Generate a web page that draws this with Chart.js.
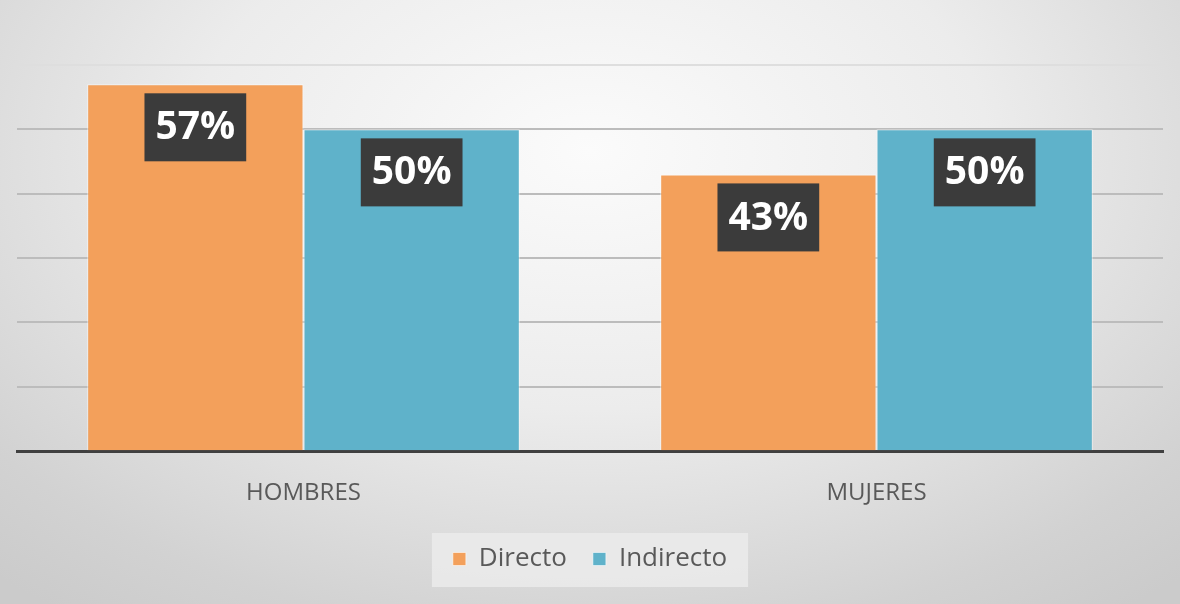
<!DOCTYPE html>
<html>
<head>
<meta charset="utf-8">
<script src="https://cdn.jsdelivr.net/npm/chart.js@4.4.0/dist/chart.umd.min.js"></script>
<style>
  html, body { margin: 0; padding: 0; }
  body {
    width: 1180px; height: 604px; overflow: hidden;
    background: radial-gradient(ellipse 75% 95% at 50% 25%, #fbfbfb 0%, #ececec 45%, #d2d2d2 85%, #cbcbcb 100%);
  }
  #wrap { position: relative; width: 1180px; height: 604px; }
</style>
</head>
<body>
<div id="wrap"><canvas id="chart"></canvas></div>
<script>
// data
const categories = ['HOMBRES', 'MUJERES'];
const directo = [57, 43];
const indirecto = [50, 50];
const seriesNames = ['Directo', 'Indirecto'];

const FONT = '"Open Sans", "Noto Sans", sans-serif';

// dark boxes with the value inside the top of each bar
const valueBoxes = {
    id: 'valueBoxes',
    afterDatasetsDraw(chart) {
        const ctx = chart.ctx;
        ctx.save();
        ctx.font = 'bold 39px ' + FONT;
        ctx.textAlign = 'center';
        ctx.textBaseline = 'middle';
        chart.data.datasets.forEach((ds, di) => {
            const meta = chart.getDatasetMeta(di);
            meta.data.forEach((bar, i) => {
                const txt = ds.data[i] + '%';
                const w = ctx.measureText(txt).width + 22;
                const h = 68;
                const top = bar.y + 9;
                ctx.fillStyle = '#3b3b3b';
                ctx.fillRect(bar.x - w / 2, top, w, h);
                ctx.fillStyle = '#ffffff';
                ctx.fillText(txt, bar.x, top + h / 2 + 1);
            });
        });
        ctx.restore();
    }
};

// light panel behind the legend
const legendPanel = {
    id: 'legendPanel',
    beforeDraw(chart) {
        const boxes = chart.legend && chart.legend.legendHitBoxes;
        if (!boxes || !boxes.length) return;
        let l = Infinity, r = -Infinity, t = Infinity, b = -Infinity;
        boxes.forEach(hb => {
            l = Math.min(l, hb.left); r = Math.max(r, hb.left + hb.width);
            t = Math.min(t, hb.top); b = Math.max(b, hb.top + hb.height);
        });
        const ctx = chart.ctx;
        ctx.save();
        ctx.fillStyle = 'rgba(235,235,235,0.85)';
        ctx.fillRect(l - 21, t - 13, r - l + 42, b - t + 28);
        ctx.restore();
    }
};

new Chart(document.getElementById('chart'), {
    type: 'bar',
    data: {
        labels: categories,
        datasets: [
            {
                label: seriesNames[0],
                data: directo,
                backgroundColor: '#f3a05b',
                borderColor: 'rgba(255,255,255,0.55)',
                borderWidth: 1
            },
            {
                label: seriesNames[1],
                data: indirecto,
                backgroundColor: '#5fb2ca',
                borderColor: 'rgba(255,255,255,0.55)',
                borderWidth: 1
            }
        ]
    },
    options: {
        responsive: true,
        maintainAspectRatio: false,
        animation: false,
        devicePixelRatio: 1,
        categoryPercentage: 0.755,
        barPercentage: 1,
        layout: { padding: { left: 17, right: 17, top: 65, bottom: 22 } },
        scales: {
            x: {
                grid: { display: false, drawTicks: false },
                border: { display: true, color: '#404040', width: 3 },
                ticks: { color: '#595959', font: { family: FONT, size: 24 }, padding: 28 },
                afterFit: s => { s.height -= 16; }
            },
            y: {
                min: 0,
                max: 60,
                ticks: { display: false, stepSize: 10 },
                border: { display: false },
                grid: {
                    drawTicks: false,
                    lineWidth: 2,
                    color: c => c.tick.value === 60 ? '#dedede' : (c.tick.value === 0 ? 'rgba(0,0,0,0)' : '#bcbcbc')
                }
            }
        },
        plugins: {
            title: { display: false },
            tooltip: { enabled: false },
            legend: {
                position: 'bottom',
                labels: {
                    color: '#595959',
                    font: { family: FONT, size: 26 },
                    boxWidth: 13,
                    boxHeight: 13,
                    padding: 26
                }
            }
        }
    },
    plugins: [legendPanel, valueBoxes]
});
</script>
</body>
</html>
